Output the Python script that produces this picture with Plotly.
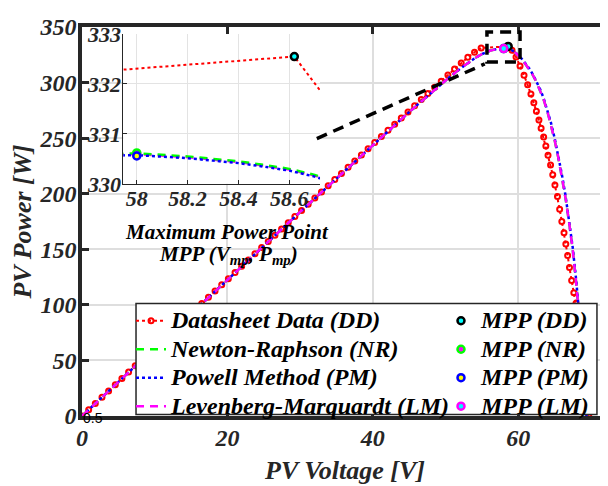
import plotly.graph_objects as go

# ---------------- data ----------------
dd_v = [0.0, 0.92, 1.83, 2.75, 3.66, 4.58, 5.49, 6.41, 7.32, 8.24, 9.15, 10.07, 10.98, 11.9,
        12.81, 13.73, 14.64, 15.56, 16.47, 17.39, 18.3, 19.22, 20.13, 21.05, 21.96, 22.88,
        23.79, 24.71, 25.62, 26.54, 27.45, 28.37, 29.28, 30.2, 31.11, 32.03, 32.94, 33.86,
        34.77, 35.69, 36.6, 37.52, 38.43, 39.35, 40.26, 41.18, 42.09, 43.01, 43.92, 44.84,
        45.75, 46.67, 47.58, 48.5, 49.41, 50.33, 51.24, 52.16, 53.07, 53.99, 54.9,
        58.62, 59.15, 59.7, 60.25, 60.8, 61.3, 61.75, 62.15, 62.5, 62.85, 63.15, 63.5, 63.8,
        64.1, 64.45, 64.75, 65.05, 65.4, 65.7, 66.0, 66.3, 66.55, 66.8, 67.05, 67.35, 67.65,
        67.95, 68.25, 68.5, 68.75, 69.0, 69.2, 69.4, 69.55, 69.7]
dd_p = [0.0, 5.6, 11.3, 16.9, 22.6, 28.2, 33.8, 39.5, 45.1, 50.7, 56.3, 62.0, 67.6, 73.2,
        78.8, 84.4, 90.0, 95.6, 101.2, 106.8, 112.4, 118.0, 123.6, 129.2, 134.8, 140.4,
        146.0, 151.5, 157.1, 162.7, 168.2, 173.8, 179.4, 184.9, 190.5, 196.1, 201.6, 207.2,
        212.7, 218.3, 223.8, 229.4, 234.9, 240.4, 246.0, 251.5, 257.0, 262.6, 268.1, 273.6,
        279.2, 284.7, 290.2, 295.7, 301.2, 306.7, 312.2, 317.6, 322.7, 327.3, 331.1,
        332.55, 329.0, 323.0, 315.0, 306.5, 298.0, 289.8, 281.8, 274.2, 266.4, 258.8, 251.0,
        243.0, 234.5, 225.8, 217.0, 207.8, 197.5, 186.0, 175.0, 164.8, 154.8, 144.5, 133.5,
        122.0, 111.0, 101.5, 91.0, 80.0, 68.0, 55.0, 42.0, 28.0, 14.0, 0.0]

model_v = [0, 2, 4, 6, 8, 10, 12, 14, 16, 18, 20, 22, 24, 26, 28, 30, 32, 34, 36, 38, 40,
           42, 44, 46, 48, 50, 52, 54, 55, 56, 57, 57.5, 57.8, 57.9, 58.0, 58.1, 58.2, 58.3,
           58.4, 58.5, 58.6, 58.7, 58.8, 59.0, 59.5, 60.0, 60.5, 61.0, 61.5, 62.0, 62.5,
           63.0, 63.5, 64.0, 64.5, 65.0, 65.5, 66.0, 66.5, 67.0, 67.5, 68.0, 68.5, 69.0, 69.4]
nr_p = [0.0, 12.3, 24.7, 37.0, 49.3, 61.5, 73.8, 86.1, 98.3, 110.5, 122.7, 134.9, 147.1,
        159.3, 171.4, 183.6, 195.7, 207.8, 219.8, 231.8, 243.8, 255.7, 267.5, 279.2, 290.6,
        301.8, 312.4, 321.8, 325.6, 328.4, 330.1, 330.45, 330.57, 330.6, 330.61, 330.58,
        330.55, 330.5, 330.45, 330.38, 330.3, 330.18, 330.02, 329.5, 327.7, 324.6, 320.9,
        316.7, 312.3, 306.9, 300.7, 293.3, 284.6, 274.4, 262.5, 248.6, 233.0, 215.5, 196.5,
        174.3, 149.3, 118.0, 84.0, 44.0, 0.0]
pm_p = [0.0, 12.3, 24.7, 37.0, 49.3, 61.5, 73.8, 86.1, 98.3, 110.5, 122.7, 134.9, 147.1,
        159.3, 171.4, 183.6, 195.7, 207.8, 219.8, 231.8, 243.8, 255.7, 267.5, 279.2, 290.6,
        301.8, 312.4, 321.8, 325.6, 328.4, 330.08, 330.42, 330.535, 330.565, 330.575,
        330.545, 330.515, 330.465, 330.415, 330.345, 330.265, 330.145, 329.985, 329.5,
        327.8, 324.9, 321.3, 317.2, 312.9, 307.5, 301.4, 294.3, 285.8, 275.8, 264.0, 250.3,
        234.9, 217.5, 198.6, 176.5, 151.5, 120.5, 85.5, 45.0, 0.0]
lm_p = [0.0, 12.3, 24.7, 37.0, 49.3, 61.5, 73.8, 86.1, 98.3, 110.5, 122.7, 134.9, 147.1,
        159.3, 171.4, 183.6, 195.7, 207.8, 219.8, 231.8, 243.8, 255.7, 267.5, 279.2, 290.6,
        301.8, 312.4, 321.8, 325.6, 328.4, 330.09, 330.435, 330.555, 330.585, 330.595,
        330.565, 330.535, 330.485, 330.435, 330.365, 330.285, 330.165, 330.005, 329.5,
        327.7, 324.6, 320.9, 316.7, 312.3, 306.9, 300.7, 293.3, 284.6, 274.4, 262.5, 248.6,
        233.0, 215.5, 196.5, 174.3, 149.3, 118.0, 84.0, 44.0, 0.0]

mpp_names = ["MPP (DD)", "MPP (NR)", "MPP (PM)", "MPP (LM)"]
mpp_v = [58.62, 58.0, 58.0, 58.0]
mpp_p = [332.55, 330.62, 330.56, 330.6]

x_ticks = [0, 20, 40, 60]
y_ticks = [0, 50, 100, 150, 200, 250, 300, 350]
inset_x_ticks = [58, 58.2, 58.4, 58.6]
inset_x_text = ["58", "58.2", "58.4", "58.6"]
inset_y_ticks = [330, 331, 332, 333]

assert len(dd_v) == len(dd_p)
assert len(model_v) == len(nr_p) == len(pm_p) == len(lm_p)

# ---------------- styling ----------------
SERIF = "Liberation Serif"
DARK = "#262626"
LEG_SIZE = 24


def lname(t):
    return '<span style="font-size:%dpx">%s</span>' % (LEG_SIZE, t)


def tfont(size, color=DARK):
    return dict(family=SERIF, size=size, color=color, weight="bold", style="italic")


line_styles = {
    "DD": dict(color="#FF0000", width=2, dash="dot"),
    "NR": dict(color="#00FF00", width=2.5, dash="8px,6px"),
    "PM": dict(color="#0000FF", width=2.5, dash="dot"),
    "LM": dict(color="#FF00FF", width=2.5, dash="8px,6px"),
}
dd_marker = dict(symbol="circle-open", size=5, color="#FF0000", line=dict(width=2, color="#FF0000"))
mpp_styles = [
    dict(color="#00FFFF", line=dict(color="#000000", width=2.5)),
    dict(color="#FF00FF", line=dict(color="#00FF00", width=2.5)),
    dict(color="#FFFF00", line=dict(color="#0000FF", width=2.5)),
    dict(color="#00FFFF", line=dict(color="#FF00FF", width=2.5)),
]

fig = go.Figure()

# main plot curves
fig.add_trace(go.Scatter(x=dd_v, y=dd_p, mode="lines+markers", name=lname("Datasheet Data (DD)"),
                         line=line_styles["DD"], marker=dd_marker, legend="legend"))
fig.add_trace(go.Scatter(x=model_v, y=nr_p, mode="lines", name=lname("Newton-Raphson (NR)"),
                         line=line_styles["NR"], legend="legend"))
fig.add_trace(go.Scatter(x=model_v, y=pm_p, mode="lines", name=lname("Powell Method (PM)"),
                         line=line_styles["PM"], legend="legend"))
fig.add_trace(go.Scatter(x=model_v, y=lm_p, mode="lines", name=lname("Levenberg-Marquardt (LM)"),
                         line=line_styles["LM"], legend="legend"))
for i in range(4):
    fig.add_trace(go.Scatter(x=[mpp_v[i]], y=[mpp_p[i]], mode="markers", name=lname(mpp_names[i]),
                             marker=dict(symbol="circle", size=7, **mpp_styles[i]), legend="legend2"))

# inset traces
fig.add_trace(go.Scatter(x=dd_v, y=dd_p, mode="lines+markers", line=line_styles["DD"], marker=dd_marker,
                         xaxis="x2", yaxis="y2", showlegend=False))
fig.add_trace(go.Scatter(x=model_v, y=lm_p, mode="lines", line=line_styles["LM"],
                         xaxis="x2", yaxis="y2", showlegend=False))
fig.add_trace(go.Scatter(x=model_v, y=nr_p, mode="lines", line=line_styles["NR"],
                         xaxis="x2", yaxis="y2", showlegend=False))
fig.add_trace(go.Scatter(x=model_v, y=pm_p, mode="lines", line=line_styles["PM"],
                         xaxis="x2", yaxis="y2", showlegend=False))
for i in [3, 1, 0, 2]:
    fig.add_trace(go.Scatter(x=[mpp_v[i]], y=[mpp_p[i]], mode="markers",
                             marker=dict(symbol="circle", size=7, **mpp_styles[i]),
                             xaxis="x2", yaxis="y2", showlegend=False))

legend_common = dict(yanchor="top", xanchor="left", y=0.2943, bgcolor="rgba(0,0,0,0)",
                     borderwidth=0, itemwidth=30, tracegroupgap=0,
                     font=dict(family=SERIF, size=19.6, color="#000000", weight="bold", style="italic"))

# the page body has an 8px margin: the plot area is placed so that it lands
# where the reference has it inside the 608x486 window
fig.update_layout(
    width=608, height=486,
    margin=dict(l=74, r=8, t=7, b=78),
    paper_bgcolor="white", plot_bgcolor="white",
    showlegend=True,
    legend=dict(x=0.0932, **legend_common),
    legend2=dict(x=0.6825, **legend_common),
    xaxis=dict(domain=[0, 1], range=[0, 72.35], tickvals=x_ticks, showline=True, linewidth=3.5,
               linecolor=DARK, mirror="ticks", ticks="inside", ticklen=7, tickwidth=3, tickcolor=DARK,
               showgrid=True, gridcolor="#dedede", gridwidth=1.5, zeroline=False,
               tickfont=tfont(24), ticklabelstandoff=-3,
               title=dict(text="PV Voltage [V]", font=tfont(26), standoff=12)),
    yaxis=dict(domain=[0, 1], range=[0, 350], tickvals=y_ticks, showline=True, linewidth=3.5,
               linecolor=DARK, mirror=False, ticks="inside", ticklen=7, tickwidth=3, tickcolor=DARK,
               showgrid=True, gridcolor="#dedede", gridwidth=1.5, zeroline=False,
               tickfont=tfont(24), ticklabelstandoff=-3,
               title=dict(text="PV Power [W]", font=tfont(26), standoff=4)),
    xaxis2=dict(domain=[0.0785, 0.4525], anchor="y2", range=[57.947, 58.721],
                tickvals=inset_x_ticks, ticktext=inset_x_text, showline=True, linewidth=1,
                linecolor=DARK, ticks="inside", ticklen=4, tickwidth=1, tickcolor=DARK,
                showgrid=True, gridcolor="#e3e3e3", gridwidth=1.2, zeroline=False,
                tickfont=tfont(22), ticklabelstandoff=-5),
    yaxis2=dict(domain=[0.5968, 0.9818], anchor="x2", range=[330, 333],
                tickvals=inset_y_ticks, showline=True, linewidth=1,
                linecolor=DARK, ticks="inside", ticklen=4, tickwidth=1, tickcolor=DARK,
                showgrid=True, gridcolor="#e3e3e3", gridwidth=1.2, zeroline=False,
                tickfont=tfont(22), ticklabelstandoff=-3),
)

# zoom indicator (dashed box around the MPP + connector to the inset)
fig.add_shape(type="line", xref="x", yref="y", x0=32.3, y0=249.6, x1=55.4, y1=316.8,
              line=dict(color="black", width=3.5, dash="11px,7px"), layer="above")
fig.add_shape(type="rect", xref="x", yref="y", x0=55.7, x1=60.25, y0=318.6, y1=345.6,
              line=dict(color="black", width=3.5, dash="11px,7px"), layer="above")
# legend box
fig.add_shape(type="rect", xref="paper", yref="paper", x0=0.1027, x1=0.979, y0=0.004, y1=0.2893,
              fillcolor="white", line=dict(color=DARK, width=1.5), layer="above")

# inset caption
fig.add_annotation(text="Maximum Power Point", xref="paper", yref="paper", x=0.2757, y=0.4738,
                   showarrow=False, xanchor="center", yanchor="middle", font=tfont(21, "#000000"))
fig.add_annotation(text="MPP (V<sub>mp</sub>, P<sub>mp</sub>)", xref="paper", yref="paper",
                   x=0.2776, y=0.415, showarrow=False, xanchor="center", yanchor="middle",
                   font=tfont(21, "#000000"))
fig.add_annotation(text="0.5", xref="paper", yref="paper", x=0.0209, y=-0.005, showarrow=False,
                   xanchor="center", yanchor="middle",
                   font=dict(family="Liberation Sans", size=14, color="black"))

fig.write_html("out.html")
